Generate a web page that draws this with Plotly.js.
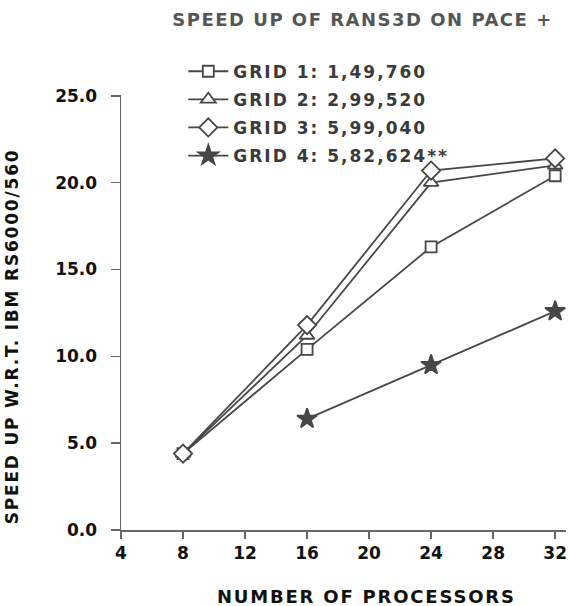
<!DOCTYPE html>
<html>
<head>
<meta charset="utf-8">
<script src="https://cdn.plot.ly/plotly-3.0.1.min.js"></script>
<style>
html,body{margin:0;padding:0;background:#fff;}
#chart{width:570px;height:606px;}
.gtitle{letter-spacing:1.5px;}
.legendtext{letter-spacing:2px;}
.annotation-text{letter-spacing:1.8px;}
</style>
</head>
<body>
<div id="chart"></div>
<script>
// Data
const processors = [8, 16, 24, 32];
const grid1 = [4.4, 10.4, 16.3, 20.4];
const grid2 = [4.4, 11.2, 20.0, 21.0];
const grid3 = [4.4, 11.8, 20.7, 21.4];
const grid4Processors = [16, 24, 32];
const grid4 = [6.4, 9.5, 12.6];
const seriesNames = ["GRID 1: 1,49,760", "GRID 2: 2,99,520", "GRID 3: 5,99,040", "GRID 4: 5,82,624**"];
const xTicks = [4, 8, 12, 16, 20, 24, 28, 32];
const yTicks = [0, 5, 10, 15, 20, 25];
const yTickLabels = ["0.0", "5.0", "10.0", "15.0", "20.0", "25.0"];
const titleText = "SPEED UP OF RANS3D ON PACE +";
const xTitleText = "NUMBER OF PROCESSORS";
const yTitleText = "SPEED UP W.R.T. IBM RS6000/560";

const ink = "#474747";
const fontFam = "'DejaVu Sans', Verdana, sans-serif";

function series(x, y, name, symbol, group, size, fill) {
  return {
    x: x, y: y, name: name, type: "scatter", mode: "lines+markers",
    legendgroup: group,
    line: {color: ink, width: 1.8},
    marker: {symbol: symbol, size: size, color: fill,
             line: {color: ink, width: 1.8}},
    cliponaxis: false
  };
}

const data = [
  series(processors, grid1, seriesNames[0], "square", "g1", 11, "#fff"),
  series(processors, grid2, seriesNames[1], "triangle-up", "g2", 13, "#fff"),
  series(processors, grid3, seriesNames[2], "diamond", "g3", 14, "#fff"),
  series(grid4Processors, grid4, seriesNames[3], "star", "g4", 15, ink)
];

const layout = {
  width: 570, height: 606,
  margin: {l: 121, r: 4, t: 95, b: 76},
  paper_bgcolor: "#fff", plot_bgcolor: "#fff",
  font: {family: fontFam, color: "#111", size: 17, weight: "bold"},
  title: {text: titleText, x: 0.636, xanchor: "center", y: 0.967, yanchor: "middle",
          font: {family: fontFam, size: 18, color: "#555", weight: "bold"}},
  showlegend: true,
  legend: {x: 0.14, xanchor: "left", y: 1.095, yanchor: "top", bgcolor: "rgba(0,0,0,0)",
           font: {family: fontFam, size: 17, color: "#3a3a3a", weight: "bold"},
           tracegroupgap: 3, itemwidth: 40},
  xaxis: {range: [4, 32.7], tickvals: xTicks, ticktext: xTicks.map(String),
          showgrid: false, zeroline: false, showline: true, linecolor: "#666", linewidth: 1.5,
          ticks: "outside", ticklen: 7, tickcolor: "#666", tickwidth: 1.5,
          tickfont: {family: fontFam, size: 17, color: "#111", weight: "bold"}},
  yaxis: {range: [0, 25.05], tickvals: yTicks, ticktext: yTickLabels,
          showgrid: false, zeroline: false, showline: true, linecolor: "#666", linewidth: 1.5,
          ticks: "outside", ticklen: 9, tickcolor: "#666", tickwidth: 1.5, ticklabelstandoff: 10,
          tickfont: {family: fontFam, size: 17, color: "#111", weight: "bold"}},
  annotations: [
    {text: xTitleText, xref: "paper", yref: "paper", x: 0.551, y: -0.152,
     xanchor: "center", yanchor: "middle", showarrow: false,
     font: {family: fontFam, size: 18, color: "#111", weight: "bold"}},
    {text: yTitleText, xref: "paper", yref: "paper", x: -0.243, y: 0.445, textangle: -90,
     xanchor: "center", yanchor: "middle", showarrow: false,
     font: {family: fontFam, size: 17, color: "#111", weight: "bold"}}
  ]
};

Plotly.newPlot("chart", data, layout, {displayModeBar: false, staticPlot: true});
</script>
</body>
</html>
